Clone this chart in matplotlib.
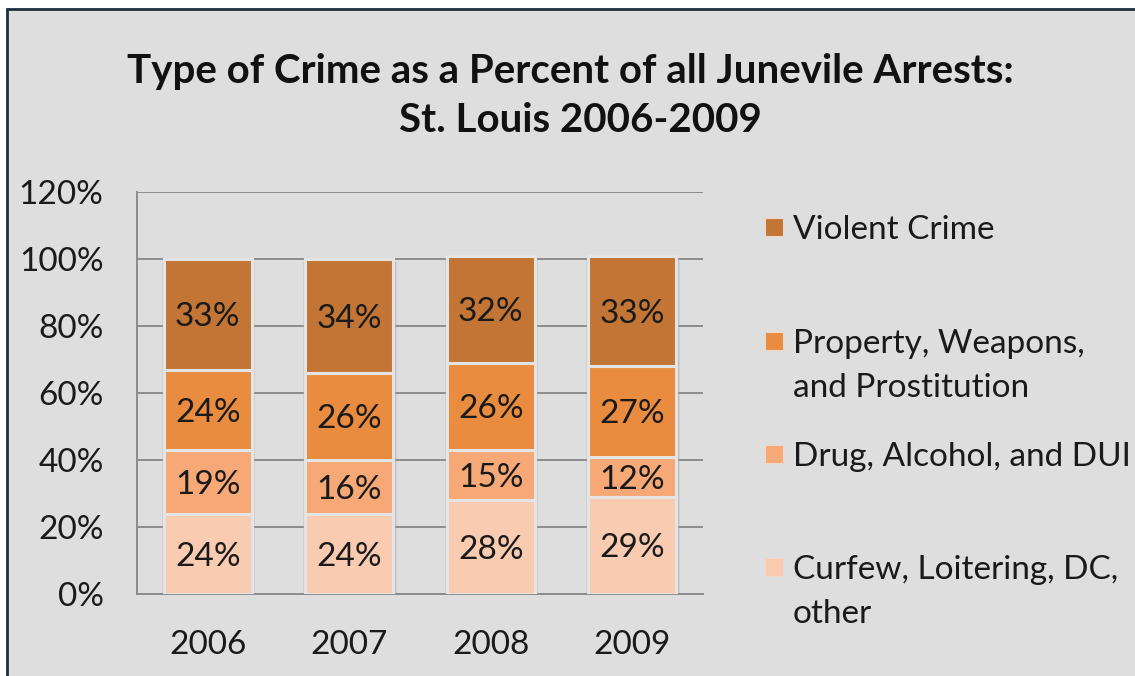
import matplotlib
matplotlib.use("Agg")
import matplotlib.pyplot as plt
from matplotlib.patches import Rectangle
import numpy as np

years = ["2006", "2007", "2008", "2009"]
series_names = ["Curfew, Loitering, DC,\nother", "Drug, Alcohol, and DUI",
                "Property, Weapons,\nand Prostitution", "Violent Crime"]
curfew = [24, 24, 28, 29]
drug = [19, 16, 15, 12]
property_ = [24, 26, 26, 27]
violent = [33, 34, 32, 33]
colors = ["#f9cbb0", "#f7a877", "#e98c40", "#c27535"]
yticks = [0, 20, 40, 60, 80, 100, 120]

BG = "#dedede"
FONT = "Lato"
plt.rcParams["font.family"] = [FONT, "DejaVu Sans"]
FS = 24

fig = plt.figure(figsize=(11.35, 6.76), dpi=100, facecolor="white")
W, H = 1135, 676
# outer chart frame
fig.patches.append(Rectangle((7 / W, -0.1), 1.2, 1 - 9 / H + 0.1, transform=fig.transFigure,
                             facecolor=BG, edgecolor="#1f2d3d", linewidth=2, zorder=-10))

ax = fig.add_axes([137 / W, 1 - 594 / H, (703 - 137) / W, (594 - 192) / H])
ax.set_facecolor(BG)
ax.patch.set_alpha(0)

x = np.arange(len(years))
width = 0.62
data = [curfew, drug, property_, violent]
totals = np.sum(data, axis=0)

# soft shadow behind each stack
for dx, a in [(0.04, 0.25), (0.022, 0.4)]:
    ax.bar(x + 0.006, totals, width=width + dx, bottom=-0.8, color="#a8a8a8", alpha=a,
           linewidth=0, zorder=2)

bottom = np.zeros(len(years))
for vals, col in zip(data, colors):
    ax.bar(x, vals, width=width, bottom=bottom, color=col, edgecolor="#e4e4e4",
           linewidth=2.2, zorder=3)
    for xi, b, v in zip(x, bottom, vals):
        ax.text(xi, b + v / 2, f"{v}%", ha="center", va="center_baseline", fontsize=FS,
                color="#1a1a1a", zorder=4)
    bottom = bottom + np.array(vals)

ax.set_xlim(-0.5, 3.5)
ax.set_ylim(0, 120)
ax.set_yticks(yticks)
ax.set_yticklabels([f"{t}%" for t in yticks], fontsize=FS, color="#1a1a1a")
ax.set_xticks(x)
ax.set_xticklabels(years, fontsize=FS, color="#1a1a1a")
ax.tick_params(axis="y", length=0, pad=24)
ax.tick_params(axis="x", length=0, pad=26)
ax.grid(axis="y", color="#8c8c8c", linewidth=1.4, zorder=1)
ax.set_axisbelow(True)
for s in ["top", "right"]:
    ax.spines[s].set_visible(False)
for s in ["left", "bottom"]:
    ax.spines[s].set_color("#8c8c8c")
    ax.spines[s].set_linewidth(1.4)

fig.text(570 / W, 1 - 72 / H, "Type of Crime as a Percent of all Junevile Arrests:",
         ha="center", va="center", fontsize=29, fontweight="bold", color="#111111")
fig.text(580 / W, 1 - 120 / H, "St. Louis 2006-2009",
         ha="center", va="center", fontsize=29, fontweight="bold", color="#111111")

# legend (top = Violent Crime)
leg_y = [567, 454, 341, 227]
for name, col, yc in zip(series_names, colors, leg_y):
    fig.patches.append(Rectangle((765 / W, 1 - (yc + 9) / H), 18 / W, 18 / H,
                                 transform=fig.transFigure, facecolor=col,
                                 edgecolor="#f0d8c8", linewidth=0.8, zorder=3))
    for i, line in enumerate(name.split("\n")):
        fig.text(793 / W, 1 - (yc + 44 * i) / H, line, ha="left", va="center_baseline",
                 fontsize=FS, color="#1a1a1a")

fig.savefig("out.png", dpi=100, facecolor=fig.get_facecolor())
